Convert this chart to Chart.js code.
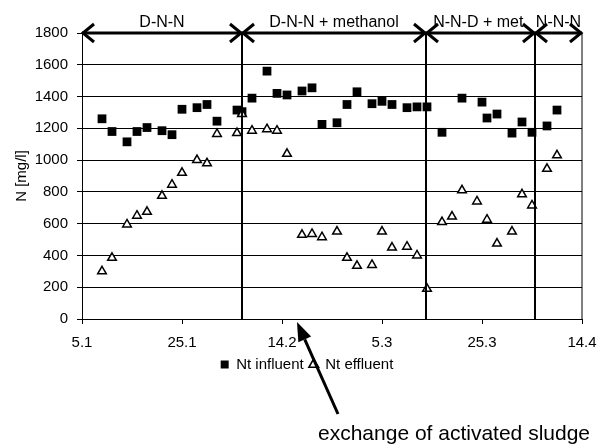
<!DOCTYPE html>
<html>
<head>
<meta charset="utf-8">
<script src="https://cdn.jsdelivr.net/npm/chart.js@4.4.0/dist/chart.umd.min.js"></script>
<style>
  body { margin: 0; background: #fff; }
  #wrap { width: 601px; height: 444px; }
</style>
</head>
<body>
<div id="wrap"><canvas id="chart"></canvas></div>
<script>
// days counted from 5.1, one tick every 20 days
const xTickLabels = ['5.1', '25.1', '14.2', '5.3', '25.3', '14.4'];

const inflDays = [4, 6, 9, 11, 13, 16, 18, 20, 23, 25, 27, 31, 32, 34, 37, 39, 41, 44, 46, 48,
  51, 53, 55, 58, 60, 62, 65, 67, 69, 72, 76, 80, 81, 83, 86, 88, 90, 93, 95];
const inflN = [1260, 1180, 1115, 1180, 1205, 1185, 1160, 1320, 1330, 1350, 1245, 1315, 1305, 1390, 1560, 1420, 1410, 1435, 1455, 1225,
  1235, 1350, 1430, 1355, 1370, 1350, 1330, 1335, 1335, 1175, 1390, 1365, 1265, 1290, 1170, 1240, 1175, 1215, 1315];

const effDays = [4, 6, 9, 11, 13, 16, 18, 20, 23, 25, 27, 31, 32, 34, 37, 39, 41, 44, 46, 48,
  51, 53, 55, 58, 60, 62, 65, 67, 69, 72, 74, 76, 79, 81, 83, 86, 88, 90, 93, 95];
const effN = [300, 385, 595, 650, 675, 775, 845, 920, 1000, 980, 1165, 1170, 1290, 1185, 1195, 1185, 1040, 530, 535, 515,
  550, 385, 335, 340, 550, 450, 455, 400, 190, 610, 645, 810, 740, 625, 475, 550, 785, 715, 945, 1030];

// process phases (day boundaries) and their names
const phaseBounds = [0, 32, 68.8, 90.6, 100];
const phaseLabels = ['D-N-N', 'D-N-N + methanol', 'N-N-D + met.', 'N-N-N'];
const sludgeDay = 43;
const sludgeText = 'exchange of activated sludge';

const FONT = '"Liberation Sans", Arial, sans-serif';
Chart.defaults.font.family = FONT;
Chart.defaults.color = '#000';

const annotations = {
  id: 'annotations',
  afterDraw(chart) {
    const { ctx, scales: { x, y } } = chart;
    const top = y.getPixelForValue(1800);
    const bottom = y.getPixelForValue(0);
    const line = (x1, y1, x2, y2) => {
      ctx.beginPath(); ctx.moveTo(x1, y1); ctx.lineTo(x2, y2); ctx.stroke();
    };
    ctx.save();
    ctx.strokeStyle = '#000';
    ctx.fillStyle = '#000';

    // phase boundaries
    ctx.lineWidth = 2;
    phaseBounds.slice(1, -1).forEach(d => {
      const px = Math.round(x.getPixelForValue(d));
      line(px, top, px, bottom);
    });
    ctx.lineWidth = 1;
    line(x.right, top, x.right, bottom);

    // double arrows along the top
    ctx.lineWidth = 3;
    ctx.lineJoin = 'miter';
    line(x.left, top, x.right, top);
    const chevron = (px, dir) => {
      ctx.beginPath();
      ctx.moveTo(px + 12 * dir, top - 9);
      ctx.lineTo(px + dir, top);
      ctx.lineTo(px + 12 * dir, top + 9);
      ctx.stroke();
    };
    ctx.font = '16px ' + FONT;
    ctx.textAlign = 'center';
    ctx.textBaseline = 'alphabetic';
    phaseLabels.forEach((lab, i) => {
      const a = x.getPixelForValue(phaseBounds[i]);
      const b = x.getPixelForValue(phaseBounds[i + 1]);
      chevron(a, 1);
      chevron(b, -1);
      ctx.fillText(lab, (a + b) / 2, 27);
    });

    // arrow pointing at the sludge exchange
    const tx = x.getPixelForValue(sludgeDay), ty = bottom + 3;
    const sx = tx + 41, sy = ty + 92;
    const ang = Math.atan2(ty - sy, tx - sx);
    const hl = 19, hw = 7;
    const bx = tx - hl * Math.cos(ang), by = ty - hl * Math.sin(ang);
    line(sx, sy, bx, by);
    ctx.beginPath();
    ctx.moveTo(tx, ty);
    ctx.lineTo(bx + hw * Math.sin(ang), by - hw * Math.cos(ang));
    ctx.lineTo(bx - hw * Math.sin(ang), by + hw * Math.cos(ang));
    ctx.closePath();
    ctx.fill();

    ctx.font = '21px ' + FONT;
    ctx.fillText(sludgeText, 454, 440);
    ctx.restore();
  }
};

new Chart(document.getElementById('chart'), {
  type: 'scatter',
  data: {
    datasets: [{
      label: 'Nt influent',
      data: inflDays.map((d, i) => ({ x: d, y: inflN[i] })),
      pointStyle: 'rect',
      pointRadius: 6.2,
      backgroundColor: '#000',
      borderColor: '#000',
      borderWidth: 0,
      order: 2
    }, {
      label: 'Nt effluent',
      data: effDays.map((d, i) => ({ x: d, y: effN[i] })),
      pointStyle: 'triangle',
      pointRadius: 5,
      backgroundColor: '#fff',
      borderColor: '#000',
      borderWidth: 1.5,
      order: 1
    }]
  },
  options: {
    responsive: true,
    maintainAspectRatio: false,
    animation: false,
    layout: { padding: { top: 33, right: 19, bottom: 62, left: 32 } },
    plugins: {
      legend: {
        position: 'bottom',
        reverse: true,
        labels: {
          usePointStyle: true,
          boxWidth: 8,
          boxHeight: 8,
          padding: 6,
          font: { size: 15, lineHeight: 1 },
          color: '#000'
        }
      },
      tooltip: { enabled: false }
    },
    scales: {
      x: {
        type: 'linear',
        min: 0,
        max: 100,
        afterFit: s => { s.height = 32; },
        ticks: {
          stepSize: 20,
          autoSkip: false,
          maxRotation: 0,
          padding: 0,
          font: { size: 15, lineHeight: 2.5 },
          callback: v => xTickLabels[v / 20] ?? ''
        },
        grid: { drawOnChartArea: false, drawTicks: true, tickLength: 5, color: '#000' },
        border: { color: '#000', width: 1 }
      },
      y: {
        min: 0,
        max: 1800,
        afterFit: s => { s.width = 50; },
        ticks: { stepSize: 200, padding: 9, font: { size: 15 }, callback: v => String(v) },
        grid: { color: '#000', lineWidth: 1, tickLength: 5 },
        border: { color: '#000', width: 1 },
        title: {
          display: true,
          text: 'N [mg/l]',
          font: { size: 15 },
          padding: { top: -19, bottom: 0 }
        }
      }
    }
  },
  plugins: [annotations]
});
</script>
</body>
</html>
